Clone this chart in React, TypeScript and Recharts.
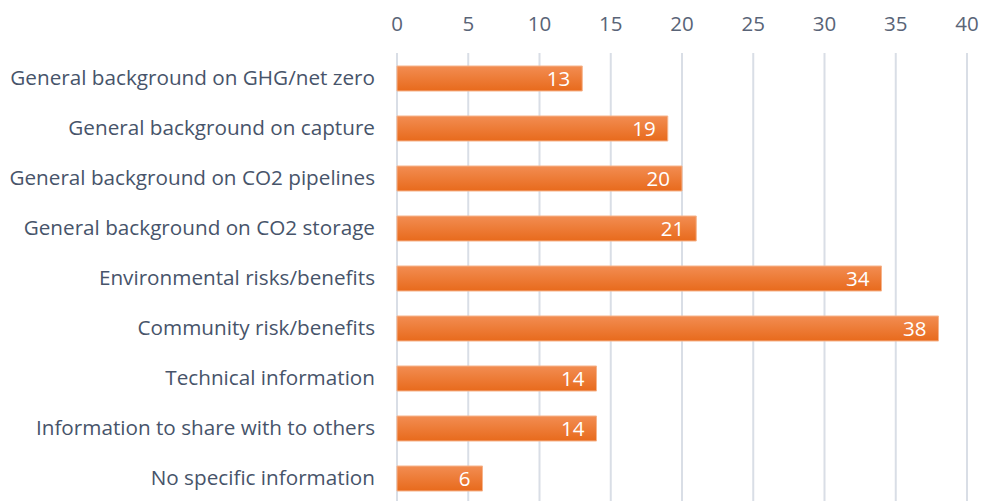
import React from 'react';
import { BarChart, Bar, XAxis, YAxis, CartesianGrid, LabelList } from 'recharts';

const categories = [
  'General background on GHG/net zero',
  'General background on capture',
  'General background on CO2 pipelines',
  'General background on CO2 storage',
  'Environmental risks/benefits',
  'Community risk/benefits',
  'Technical information',
  'Information to share with to others',
  'No specific information',
];
const values = [13, 19, 20, 21, 34, 38, 14, 14, 6];
const xTicks = [0, 5, 10, 15, 20, 25, 30, 35, 40];

const data = categories.map((name, i) => ({ name, value: values[i] }));

export default function App() {
  return (
    <div style={{ position: 'absolute', left: 0, top: 0, width: 997, height: 501, overflow: 'hidden', background: '#fff' }}>
      <BarChart
        width={997}
        height={510}
        data={data}
        layout="vertical"
        margin={{ top: 0, right: 30, bottom: 7, left: 0 }}
        barSize={25}
      >
        <defs>
          <linearGradient id="barGrad" x1="0" y1="0" x2="0" y2="1">
            <stop offset="0%" stopColor="#F28D52" />
            <stop offset="100%" stopColor="#E86A1C" />
          </linearGradient>
        </defs>
        <CartesianGrid horizontal={false} stroke="#D9DEE6" strokeWidth={2} />
        <XAxis
          type="number"
          orientation="top"
          domain={[0, 40]}
          ticks={xTicks}
          axisLine={false}
          tickLine={false}
          tickSize={0}
          tickMargin={22}
          height={53}
          interval={0}
          tick={{ fill: '#596477', fontSize: 20.5, fontFamily: 'Open Sans' }}
        />
        <YAxis
          type="category"
          dataKey="name"
          width={397}
          axisLine={false}
          tickLine={false}
          tickSize={0}
          tickMargin={22}
          interval={0}
          tick={{ fill: '#47546A', fontSize: 20.7, fontFamily: 'Open Sans' }}
        />
        <Bar dataKey="value" fill="url(#barGrad)" stroke="#F6B48C" strokeWidth={1} isAnimationActive={false}>
          <LabelList dataKey="value" position="insideRight" offset={12} fill="#FFFFFF" fontSize={20.5} fontFamily="Open Sans" />
        </Bar>
      </BarChart>
    </div>
  );
}
